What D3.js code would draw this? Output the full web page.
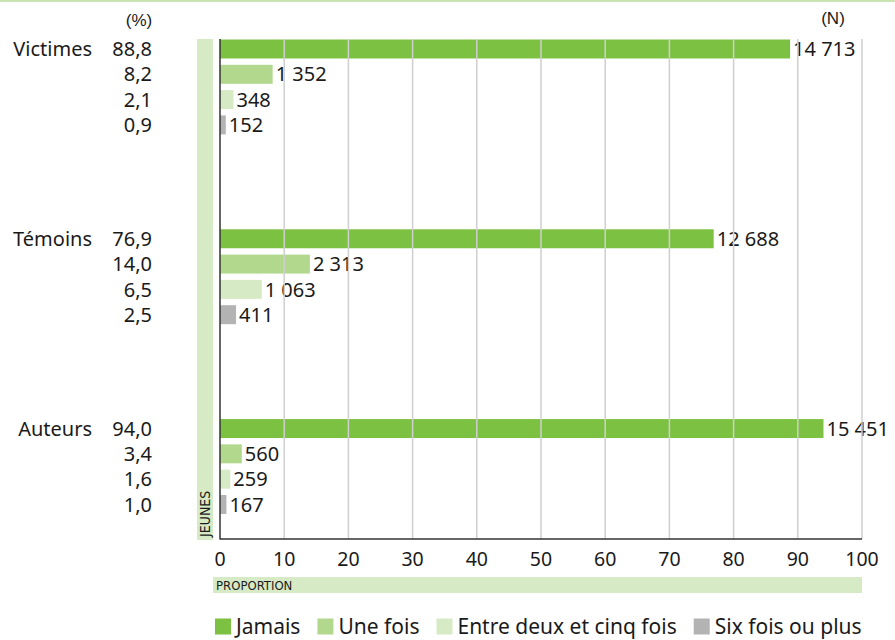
<!DOCTYPE html>
<html>
<head>
<meta charset="utf-8">
<script src="https://cdn.jsdelivr.net/npm/d3@7"></script>
<style>
  body { margin: 0; background: #fff; }
  svg { display: block; }
  text { font-family: "Noto Sans", Lato, sans-serif; fill: #1a1a1a; }
</style>
</head>
<body>
<svg id="chart" width="895" height="640"></svg>
<script>
"use strict"

// groups (rows) and answer categories (series)
const groups = ["Victimes", "Témoins", "Auteurs"]
const series = ["Jamais", "Une fois", "Entre deux et cinq fois", "Six fois ou plus"]

// proportions (%) per group, in series order
const pctVictimes = [88.8, 8.2, 2.1, 0.9]
const pctTemoins  = [76.9, 14.0, 6.5, 2.5]
const pctAuteurs  = [94.0, 3.4, 1.6, 1.0]

// counts (N) per group, in series order
const nVictimes = [14713, 1352, 348, 152]
const nTemoins  = [12688, 2313, 1063, 411]
const nAuteurs  = [15451, 560, 259, 167]

const xTicks = [0, 10, 20, 30, 40, 50, 60, 70, 80, 90, 100]

const colors = ["#7cc142", "#b2d88d", "#d7eac6", "#b3b3b3"]

const pcts = [pctVictimes, pctTemoins, pctAuteurs]
const counts = [nVictimes, nTemoins, nAuteurs]

let rows = []
groups.forEach((g, gi) => series.forEach((s, si) =>
    rows.push({group: g, serie: s, pct: pcts[gi][si], n: counts[gi][si], si: si})
))

const fr = d3.formatLocale({decimal: ",", thousands: " ", grouping: [3], currency: ["", ""]})
const fmtPct = fr.format(".1f"),
      fmtN = fr.format(",d")

const svg = d3.select("#chart")

let x = d3.scaleLinear().domain([0, 100]).range([220, 862])

let yGroup = d3.scaleBand().domain(groups)
    .range([39.5, 539])
    .paddingInner(0.5)
    .paddingOuter(0.066)
    .align(0)

let ySerie = d3.scaleBand().domain(series)
    .range([0, yGroup.bandwidth()])
    .paddingInner(0.25)
    .paddingOuter(0)

const yTop = 39, yBottom = 539

// thin green rule at the very top (page frame)
svg.append("rect")
    .attr("x", 0).attr("y", 0)
    .attr("width", 895).attr("height", 2)
    .attr("fill", "#c9e4b0")

// side band "JEUNES"
svg.append("rect")
    .attr("x", 197).attr("y", yTop)
    .attr("width", 16).attr("height", yBottom - yTop + 1)
    .attr("fill", "#d7eac6")
svg.append("text")
    .attr("transform", "translate(210," + (yBottom - 2) + ") rotate(-90)")
    .style("font-family", "'DejaVu Sans Condensed', sans-serif")
    .style("font-size", "14px")
    .text("JEUNES")

// bottom band "PROPORTION"
svg.append("rect")
    .attr("x", 213).attr("y", 577)
    .attr("width", 862 - 213).attr("height", 16)
    .attr("fill", "#d7eac6")
svg.append("text")
    .attr("x", 216).attr("y", 590)
    .style("font-family", "'DejaVu Sans Condensed', sans-serif")
    .style("font-size", "13px")
    .text("PROPORTION")

// bars
svg.append("g")
    .selectAll("rect")
    .data(rows)
    .enter().append("rect")
    .attr("x", x(0))
    .attr("y", d => yGroup(d.group) + ySerie(d.serie))
    .attr("width", d => x(d.pct) - x(0))
    .attr("height", ySerie.bandwidth())
    .attr("fill", d => colors[d.si])

// count labels at the bar end
svg.append("g")
    .selectAll("text")
    .data(rows)
    .enter().append("text")
    .attr("x", d => x(d.pct) + 3)
    .attr("y", d => yGroup(d.group) + ySerie(d.serie) + ySerie.bandwidth() / 2)
    .attr("dy", "0.36em")
    .style("font-size", "20px")
    .text(d => fmtN(d.n))

// gridlines are drawn over bars and labels, like in the source
svg.append("g")
    .selectAll("line")
    .data(xTicks.slice(1))
    .enter().append("line")
    .attr("x1", d => x(d)).attr("x2", d => x(d))
    .attr("y1", yTop).attr("y2", yBottom)
    .attr("stroke", "#cfcfcf")
    .attr("stroke-width", 1.5)

// axes lines
svg.append("line")
    .attr("x1", x(0)).attr("x2", x(0))
    .attr("y1", yTop).attr("y2", yBottom + 0.5)
    .attr("stroke", "#333").attr("stroke-width", 1.5)
svg.append("line")
    .attr("x1", x(0)).attr("x2", x(100))
    .attr("y1", yBottom).attr("y2", yBottom)
    .attr("stroke", "#333").attr("stroke-width", 1.5)

// x tick labels
svg.append("g")
    .selectAll("text")
    .data(xTicks)
    .enter().append("text")
    .attr("x", d => x(d))
    .attr("y", 559)
    .attr("dy", "0.36em")
    .attr("text-anchor", "middle")
    .style("font-size", "19.5px")
    .text(d => d)

// left labels: group name + percent
svg.append("g")
    .selectAll("text")
    .data(groups)
    .enter().append("text")
    .attr("x", 92)
    .attr("y", g => yGroup(g) + ySerie(series[0]) + ySerie.bandwidth() / 2)
    .attr("dy", "0.36em")
    .attr("text-anchor", "end")
    .style("font-size", "20px")
    .text(g => g)

svg.append("g")
    .selectAll("text")
    .data(rows)
    .enter().append("text")
    .attr("x", 152)
    .attr("y", d => yGroup(d.group) + ySerie(d.serie) + ySerie.bandwidth() / 2)
    .attr("dy", "0.36em")
    .attr("text-anchor", "end")
    .style("font-size", "20px")
    .text(d => fmtPct(d.pct))

// column headers
svg.append("text")
    .attr("x", 139).attr("y", 20).attr("dy", "0.36em")
    .attr("text-anchor", "middle")
    .style("font-family", "'Liberation Sans Narrow', sans-serif")
    .style("font-size", "17px")
    .text("(%)")
svg.append("text")
    .attr("x", 833).attr("y", 18).attr("dy", "0.36em")
    .attr("text-anchor", "middle")
    .style("font-family", "'Liberation Sans Narrow', sans-serif")
    .style("font-size", "17px")
    .text("(N)")

// legend, items laid out one after another
let legend = svg.append("g").attr("transform", "translate(215,618.5)")
let lx = 0
series.forEach((s, i) => {
    let item = legend.append("g").attr("transform", "translate(" + lx + ",0)")
    item.append("rect")
        .attr("width", 16).attr("height", 16)
        .attr("fill", colors[i])
    let t = item.append("text")
        .attr("x", 21).attr("y", 8).attr("dy", "0.34em")
        .style("font-size", "21px")
        .text(s)
    lx += 21 + t.node().getComputedTextLength() + 17
})
</script>
</body>
</html>
